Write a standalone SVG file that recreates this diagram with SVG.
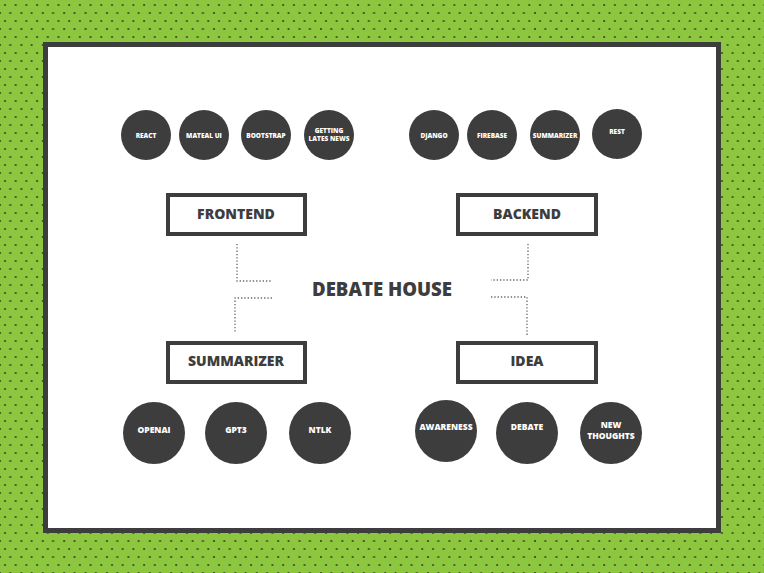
<svg xmlns="http://www.w3.org/2000/svg" width="764" height="573" viewBox="0 0 764 573">
<style>
.c{fill:#3d3d3d}
.ct{fill:#fff;font-family:"Open Sans",sans-serif;font-weight:800;font-size:6.5px;text-anchor:middle}
.cb{fill:#fff;font-family:"Open Sans",sans-serif;font-weight:800;font-size:8.5px;text-anchor:middle}
.b{fill:#fff;stroke:#3d3d3d;stroke-width:4}
.bt{fill:#3d3d3d;font-family:"Open Sans",sans-serif;font-weight:800;font-size:14px;text-anchor:middle}
.d{fill:none;stroke:#666;stroke-width:1.3;stroke-dasharray:1.3 2}
</style>
<defs>
<pattern id="p" width="21.4" height="16" patternUnits="userSpaceOnUse">
<rect width="21.4" height="16" fill="#8dc63f"/>
<circle cx="5" cy="5" r="1.1" fill="#3a4a20"/><circle cx="15.7" cy="5" r="1.1" fill="#3a4a20"/>
<circle cx="10.3" cy="13" r="1.1" fill="#3a4a20"/><circle cx="0" cy="13" r="1.1" fill="#3a4a20"/><circle cx="21.4" cy="13" r="1.1" fill="#3a4a20"/>
</pattern>
</defs>
<rect width="764" height="573" fill="url(#p)"/>
<rect x="45.5" y="44.5" width="673" height="486" fill="#fff" stroke="#3d3d3d" stroke-width="5"/>
<g id="connectors">
<path class="d" d="M237 244V281H272"/>
<path class="d" d="M272 298H235V333"/>
<path class="d" d="M528 244V280H491"/>
<path class="d" d="M491 297H527V335"/>
</g>
<g id="title"><text x="382" y="296" fill="#3d3d3d" font-family="'Open Sans',sans-serif" font-weight="800" font-size="19" text-anchor="middle" textLength="140" lengthAdjust="spacingAndGlyphs">DEBATE HOUSE</text></g>
<g id="react"><circle class="c" cx="146" cy="135" r="25"/><text class="ct" x="146" y="138">REACT</text></g>
<g id="mateal"><circle class="c" cx="204" cy="135" r="25"/><text class="ct" x="204" y="138">MATEAL UI</text></g>
<g id="bootstrap"><circle class="c" cx="266" cy="135" r="25"/><text class="ct" x="266" y="138">BOOTSTRAP</text></g>
<g id="news"><circle class="c" cx="329" cy="135" r="25"/><text class="ct" x="329" y="133">GETTING</text><text class="ct" x="329" y="141">LATES NEWS</text></g>
<g id="django"><circle class="c" cx="434" cy="135" r="25"/><text class="ct" x="434" y="138">DJANGO</text></g>
<g id="firebase"><circle class="c" cx="492" cy="135" r="25"/><text class="ct" x="492" y="138">FIREBASE</text></g>
<g id="summ"><circle class="c" cx="555" cy="135" r="25"/><text class="ct" x="555" y="138">SUMMARIZER</text></g>
<g id="rest"><circle class="c" cx="617" cy="134" r="25"/><text class="ct" x="617" y="134">REST</text></g>
<g id="frontend"><rect class="b" x="168" y="195" width="137" height="39"/><text class="bt" x="236" y="219">FRONTEND</text></g>
<g id="backend"><rect class="b" x="458" y="195" width="138" height="39"/><text class="bt" x="527" y="219">BACKEND</text></g>
<g id="summarizer"><rect class="b" x="168" y="343" width="137" height="39"/><text class="bt" x="236" y="366">SUMMARIZER</text></g>
<g id="idea"><rect class="b" x="458" y="343" width="138" height="39"/><text class="bt" x="527" y="366">IDEA</text></g>
<g id="openai"><circle class="c" cx="154" cy="433" r="31"/><text class="cb" x="154" y="433">OPENAI</text></g>
<g id="gpt3"><circle class="c" cx="236" cy="433" r="31"/><text class="cb" x="236" y="433">GPT3</text></g>
<g id="ntlk"><circle class="c" cx="320" cy="433" r="31"/><text class="cb" x="320" y="433">NTLK</text></g>
<g id="awareness"><circle class="c" cx="446" cy="431" r="31"/><text class="cb" x="446" y="430">AWARENESS</text></g>
<g id="debate"><circle class="c" cx="527" cy="433" r="31"/><text class="cb" x="527" y="430">DEBATE</text></g>
<g id="newthoughts"><circle class="c" cx="611" cy="433" r="31"/><text class="cb" x="611" y="428">NEW</text><text class="cb" x="611" y="439">THOUGHTS</text></g>
</svg>
